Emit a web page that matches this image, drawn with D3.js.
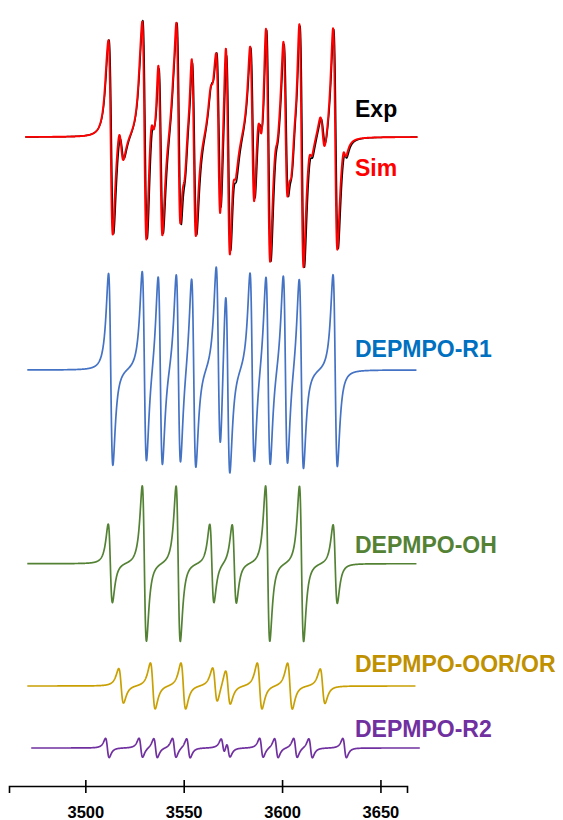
<!DOCTYPE html>
<html><head><meta charset="utf-8">
<script src="https://cdn.jsdelivr.net/npm/d3@7"></script>
<style>body{margin:0;background:#fff}svg{display:block}text{font-family:"Liberation Sans",Arial,sans-serif;font-weight:bold}</style>
</head><body>
<svg id="c" width="563" height="820"></svg>
<script>
// ---- data (field in G, relative intensities with R1 = 100) ----
const tickValues = [3500, 3550, 3600, 3650];
const r1Centers  = [3512.9, 3530.0, 3538.1, 3547.3, 3555.1, 3567.6, 3572.4, 3584.8, 3592.9, 3601.7, 3609.8, 3627.0];
const r1Amps     = [100, 100, 100, 100, 100, 100, 100, 100, 100, 100, 100, 100];
const simR1Amps  = [100, 100, 112, 97, 112, 115, 110, 100, 110, 105, 112, 113];   // R1 line intensities in the Exp/Sim fit
const ohCenters  = [3512.7, 3530.0, 3547.2, 3564.3, 3575.7, 3592.7, 3609.9, 3627.0];
const ohAmps     = [41, 81, 81, 41, 41, 81, 81, 41];
const oorCenters = [3518.2, 3534.3, 3549.8, 3565.9, 3572.5, 3588.6, 3604.0, 3620.6];
const oorAmps    = [18, 24, 24, 18, 18, 24, 24, 18];
const r2Centers  = [3511.2, 3528.2, 3535.7, 3545.2, 3552.4, 3569.9, 3572.7, 3589.5, 3597.1, 3606.8, 3614.5, 3631.8];
const r2Amps     = [10, 10, 10, 10, 10, 8, 8, 10, 10, 10, 10, 10];
const widths     = {r1: 1.9, oh: 1.85, oor: 2.1, r2: 1.6};     // Lorentzian HWHM, G
const simWeights = {r1: 0.885, oh: 0.41, oor: 1.1, r2: 0.8};
const expWeights = {r1: 0.87, oh: 0.43, oor: 1.0, r2: 0.8};
const expShift = 0.4;       // G
const expBroaden = 1.06;
const labels = [
  {key:"exp", text:"Exp"}, {key:"sim", text:"Sim"},
  {key:"r1", text:"DEPMPO-R1"}, {key:"oh", text:"DEPMPO-OH"},
  {key:"oor", text:"DEPMPO-OOR/OR"}, {key:"r2", text:"DEPMPO-R2"}
];

// ---- layout / style ----
const svg = d3.select("#c");
const x = d3.scaleLinear().domain([3461.2, 3663.5]).range([9, 407]);
const axisY = 786;
const panels = {top:137, r1:370, oh:563.7, oor:686, r2:748};
const ampPx = 96;
const yFor = base => d3.scaleLinear().domain([-100, 100]).range([base + ampPx, base - ampPx]);
const colors = {exp:"#000000", sim:"#FF0000", r1:"#4472C4", oh:"#548235", oor:"#C9A003", r2:"#7030A0"};
const textColors = {exp:"#000000", sim:"#FF0000", r1:"#0070C0", oh:"#548235", oor:"#BF9000", r2:"#7030A0"};
const labelY = {exp:116.7, sim:175.7, r1:356.7, oh:552.7, oor:671.7, r2:736.7};
const ranges = {top:[3469.5, 3668.8], r1:[3470.5, 3668.3], oh:[3470.5, 3668.3], oor:[3470.5, 3667.8], r2:[3472.5, 3670.0]};

// first-derivative Lorentzian, normalised to unit peak
const gmax = (1/Math.sqrt(3)) / Math.pow(4/3, 2);
const dl = u => (-u / Math.pow(1 + u*u, 2)) / gmax;
const comp = (centers, amps, w, shift=0) => B => d3.sum(centers, (c, i) => amps[i] * dl((B - c - shift) / w));

const fR1 = comp(r1Centers, r1Amps, widths.r1), fOH = comp(ohCenters, ohAmps, widths.oh);
const fOOR = comp(oorCenters, oorAmps, widths.oor), fR2 = comp(r2Centers, r2Amps, widths.r2);
const sR1 = comp(r1Centers, simR1Amps, widths.r1);
const eR1 = comp(r1Centers, simR1Amps, widths.r1*expBroaden, expShift), eOH = comp(ohCenters, ohAmps, widths.oh*expBroaden, expShift);
const eOOR = comp(oorCenters, oorAmps, widths.oor*expBroaden, expShift), eR2 = comp(r2Centers, r2Amps, widths.r2*expBroaden, expShift);
const fSim = B => simWeights.r1*sR1(B) + simWeights.oh*fOH(B) + simWeights.oor*fOOR(B) + simWeights.r2*fR2(B);
const fExp = B => expWeights.r1*eR1(B) + expWeights.oh*eOH(B) + expWeights.oor*eOOR(B) + expWeights.r2*eR2(B);

const sample = ([a, b], f) => d3.range(a, b + 1e-9, 0.1).map(B => [B, f(B)]);
function draw(key, rangeKey, panelKey, f, width) {
  const y = yFor(panels[panelKey]);
  svg.append("path").datum(sample(ranges[rangeKey], f))
    .attr("fill", "none").attr("stroke", colors[key]).attr("stroke-width", width)
    .attr("stroke-linejoin", "round")
    .attr("d", d3.line().x(d => x(d[0])).y(d => y(d[1])));
}
draw("exp", "top", "top", fExp, 1.5);
draw("sim", "top", "top", fSim, 1.9);
draw("r1", "r1", "r1", fR1, 1.7);
draw("oh", "oh", "oh", fOH, 1.7);
draw("oor", "oor", "oor", fOOR, 1.7);
draw("r2", "r2", "r2", fR2, 1.7);

svg.selectAll("text.lab").data(labels).join("text").attr("class", "lab")
  .attr("x", 355).attr("y", d => labelY[d.key])
  .attr("fill", d => textColors[d.key]).style("font-size", "23px").text(d => d.text);

const ax = svg.append("g").attr("transform", `translate(0,${axisY})`)
  .call(d3.axisBottom(x).tickValues(tickValues).tickFormat(d3.format("d")).tickSizeOuter(0).tickSize(7));
ax.select(".domain").attr("stroke", "#000").attr("stroke-width", 1.6);
ax.selectAll(".tick line").attr("y1", -6).attr("y2", 7).attr("stroke", "#000").attr("stroke-width", 1.6);
ax.selectAll(".tick text").attr("y", 31.5).attr("dy", 0).attr("fill", "#000")
  .style("font-size", "16.5px").style("font-weight", "bold").style("font-family", '"Liberation Sans",Arial,sans-serif');
</script>
</body></html>
